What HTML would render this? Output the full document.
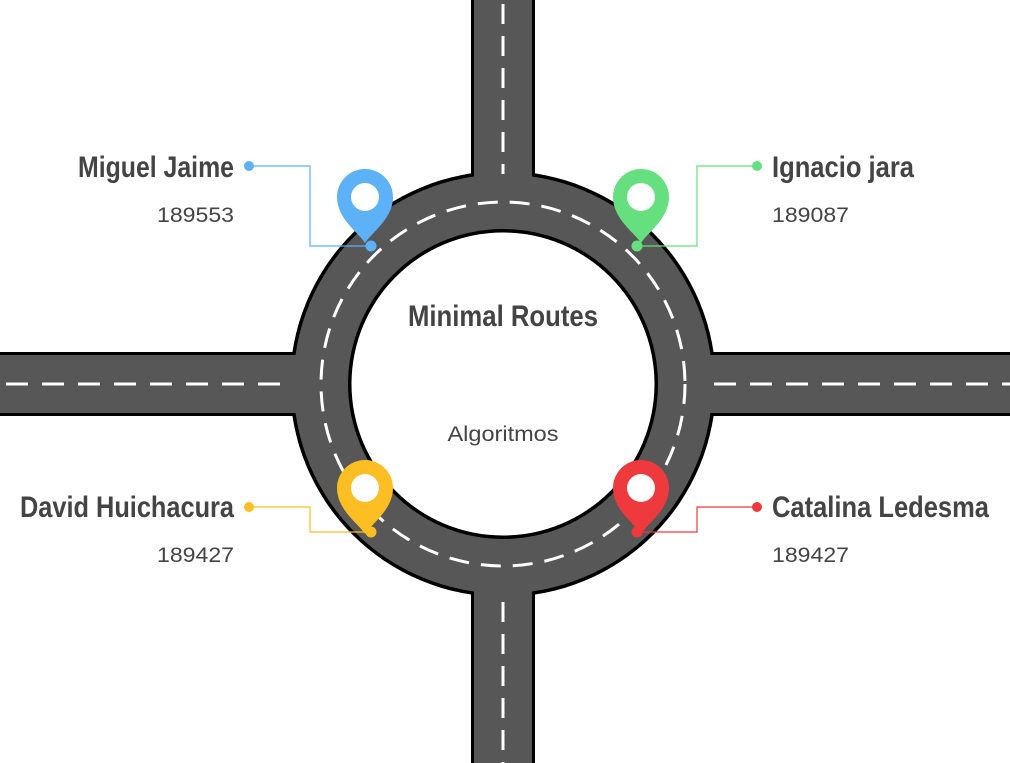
<!DOCTYPE html>
<html><head><meta charset="utf-8"><style>
html,body{margin:0;padding:0;background:#fff;width:1010px;height:763px;overflow:hidden}
svg{display:block}
.nm{font-family:"Liberation Sans Narrow","Liberation Sans",sans-serif;font-weight:bold;font-size:30px;fill:#444}
.num{font-family:"Liberation Sans",sans-serif;font-size:21px;fill:#444}
</style></head><body>
<svg id="c" width="1010" height="763" viewBox="0 0 1010 763">
<g>
<rect x="471" y="0" width="64" height="763" fill="#000"/>
<rect x="0" y="352" width="1010" height="64" fill="#000"/>
<circle cx="503" cy="384" r="213" fill="#000"/>
<rect x="474" y="0" width="58" height="763" fill="#575757"/>
<rect x="0" y="355" width="1010" height="58" fill="#575757"/>
<circle cx="503" cy="384" r="209.5" fill="#575757"/>
<circle cx="503" cy="384" r="155" fill="#000"/>
<circle cx="503" cy="384" r="151.5" fill="#fff"/>
<line x1="503" y1="0" x2="503" y2="174" stroke="#fff" stroke-width="3" stroke-dasharray="20 12" stroke-dashoffset="-4"/>
<line x1="503" y1="594" x2="503" y2="763" stroke="#fff" stroke-width="3" stroke-dasharray="20 12" stroke-dashoffset="-8"/>
<line x1="0" y1="384" x2="292" y2="384" stroke="#fff" stroke-width="3" stroke-dasharray="22 14" stroke-dashoffset="-6"/>
<line x1="714" y1="384" x2="1010" y2="384" stroke="#fff" stroke-width="3" stroke-dasharray="22 14"/>
<circle cx="503" cy="384" r="182" fill="none" stroke="#fff" stroke-width="3" stroke-dasharray="20 12"/>
</g>
<text x="503" y="326" text-anchor="middle" class="nm" textLength="190" lengthAdjust="spacingAndGlyphs">Minimal Routes</text>
<text x="503" y="441" text-anchor="middle" class="num" textLength="111" lengthAdjust="spacingAndGlyphs">Algoritmos</text>
<g id="people"></g>
</svg>
<script>
const names=["Miguel Jaime","Ignacio jara","David Huichacura","Catalina Ledesma"];
const ids=["189553","189087","189427","189427"];
const colors=["#5DB1F7","#66E07F","#FCBE22","#EE3A3C"];
const sides=["left","right","left","right"];
const rows=["top","top","bottom","bottom"];
const nameWidths=[156,142,214,217];
const g=document.getElementById('people');
const NS='http://www.w3.org/2000/svg';
function mk(t,a){const e=document.createElementNS(NS,t);for(const k in a)e.setAttribute(k,a[k]);return e;}
names.forEach((n,i)=>{
  const L=sides[i]==='left', T=rows[i]==='top';
  const pcx=L?365:641, pcy=T?197:488;
  const dx=L?371:637, dy=T?246:532;
  const lx=L?249:757, ly=T?166:507;
  const bx=L?310:697;
  const grp=mk('g',{});
  
  
  const line=mk('polyline',{points:`${lx},${ly} ${bx},${ly} ${bx},${dy} ${dx},${dy}`,fill:'none',stroke:colors[i],'stroke-width':1.2});
  
  
  grp.appendChild(line);
  const d1=mk('circle',{cx:lx,cy:ly,r:5,fill:colors[i]});
  
  
  grp.appendChild(d1);
  const r=28, tipY=pcy+46;
  const pin=mk('path',{d:`M${pcx},${tipY} C${pcx-6},${pcy+36} ${pcx-r},${pcy+22} ${pcx-r},${pcy} A${r},${r} 0 1 1 ${pcx+r},${pcy} C${pcx+r},${pcy+22} ${pcx+6},${pcy+36} ${pcx},${tipY} Z`,fill:colors[i]});
  
  
  grp.appendChild(pin);
  const hole=mk('circle',{cx:pcx,cy:pcy,r:14,fill:'#fff'});
  
  
  grp.appendChild(hole);
  const d2=mk('circle',{cx:dx,cy:dy,r:5.5,fill:colors[i]});
  
  
  grp.appendChild(d2);
  const tx=L?234:772, anc=L?'end':'start';
  const t1=mk('text',{x:tx,y:T?177:517,'text-anchor':anc,class:'nm',textLength:nameWidths[i],lengthAdjust:'spacingAndGlyphs'});
  t1.textContent=n;
  
  
  grp.appendChild(t1);
  const t2=mk('text',{x:tx,y:T?222:562,'text-anchor':anc,class:'num',textLength:77,lengthAdjust:'spacingAndGlyphs'});
  t2.textContent=ids[i];
  
  
  grp.appendChild(t2);
  g.appendChild(grp);
});
</script>
</body></html>
